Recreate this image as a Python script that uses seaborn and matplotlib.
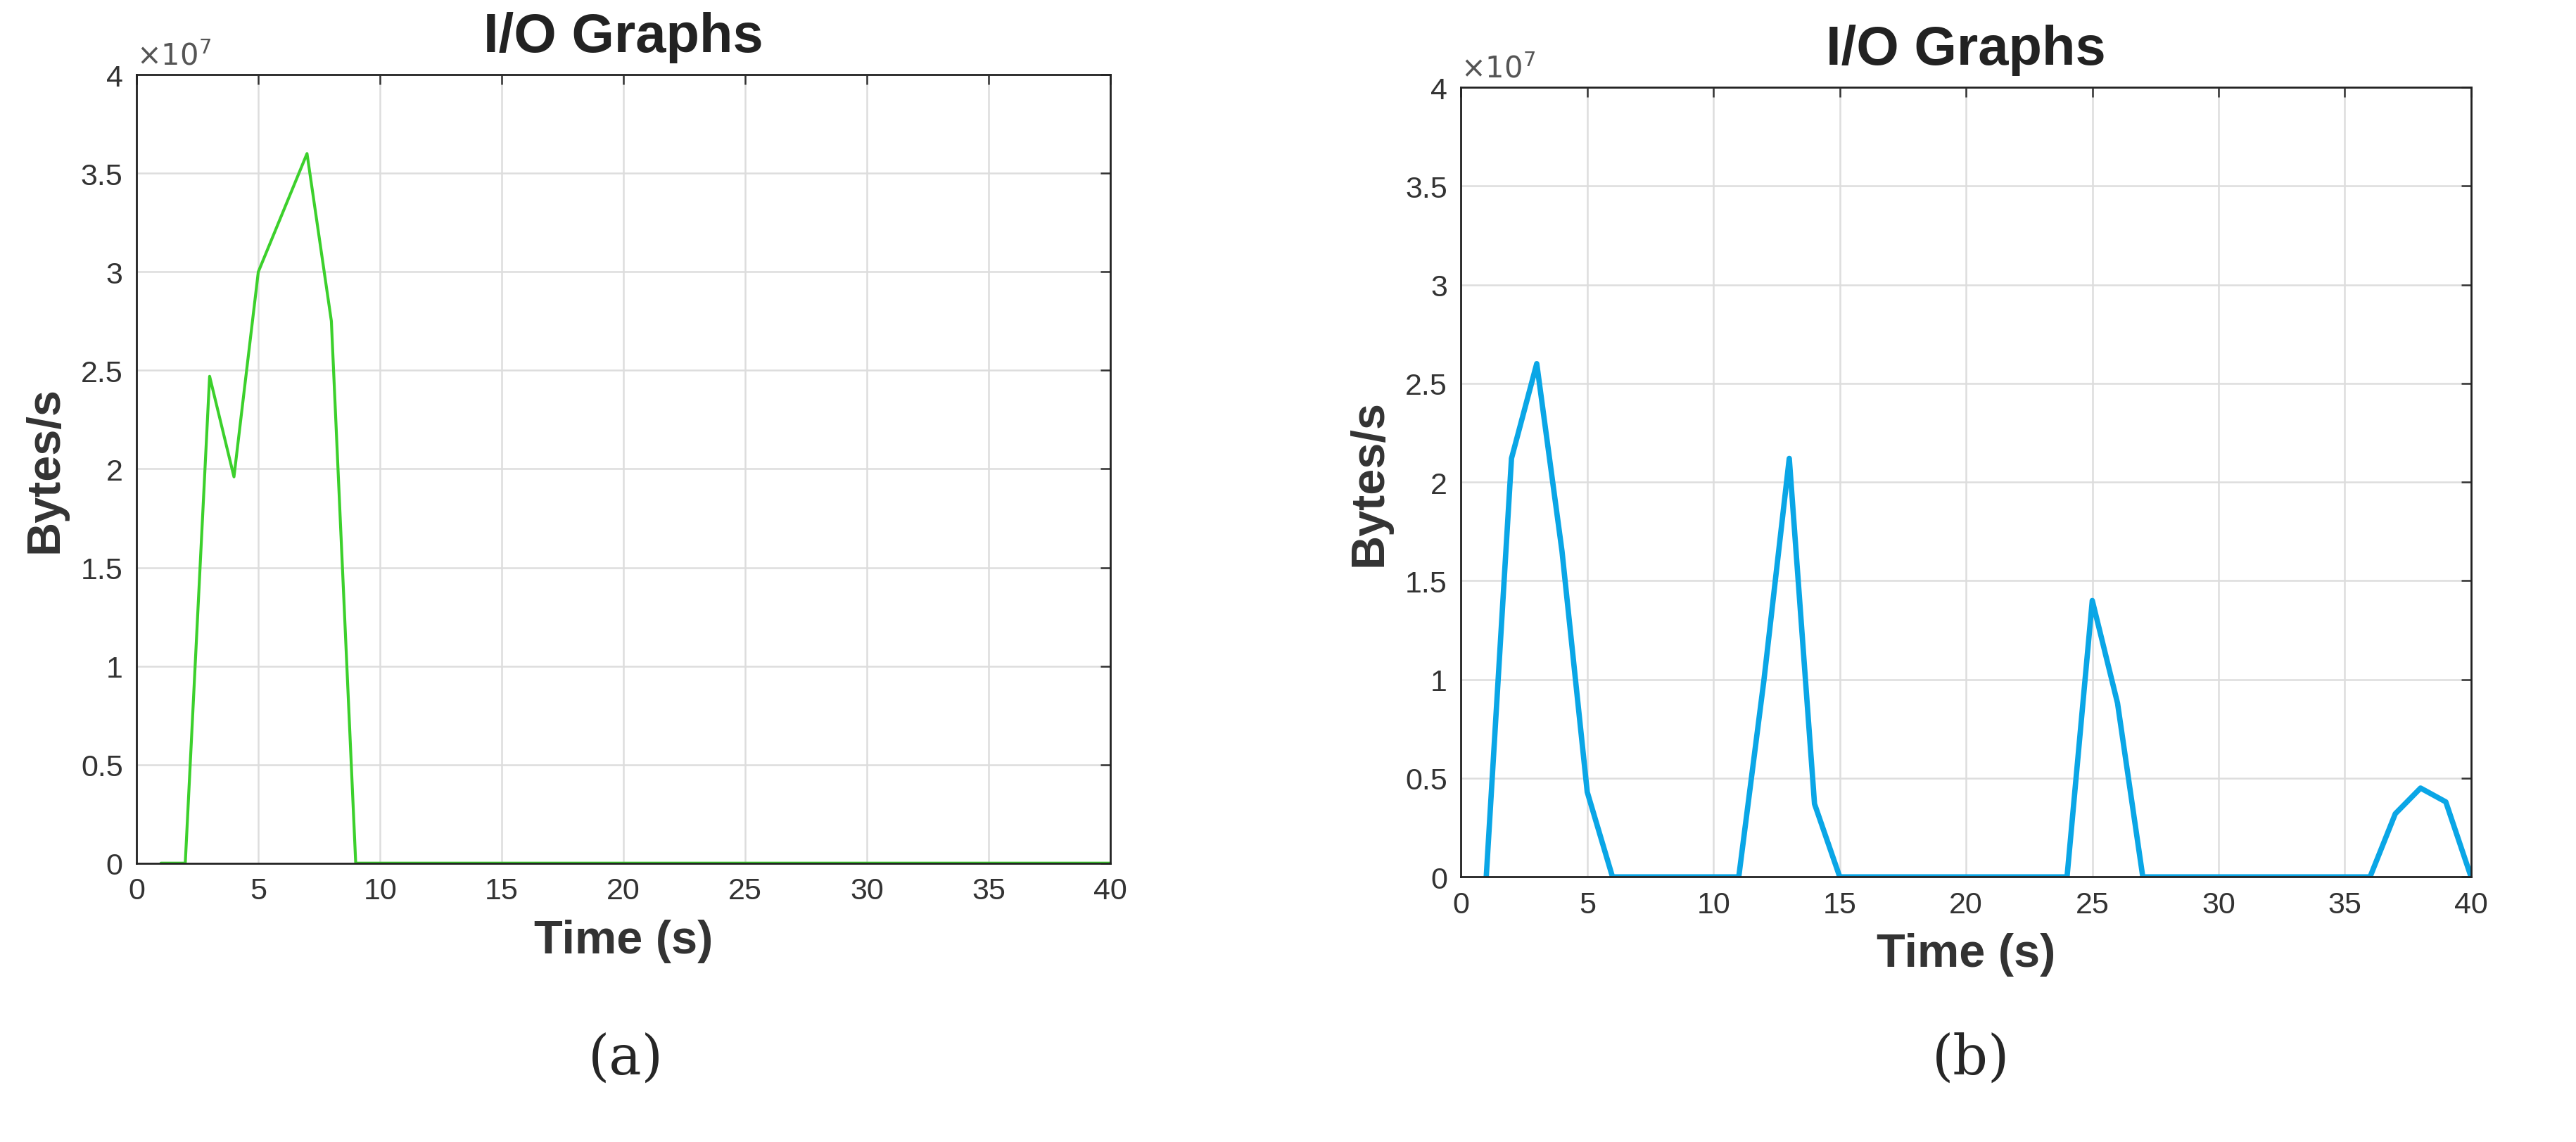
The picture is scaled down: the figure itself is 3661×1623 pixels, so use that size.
import numpy as np
import pandas as pd
import matplotlib
matplotlib.use("Agg")
import matplotlib.pyplot as plt
import seaborn as sns

time_s = list(range(1, 41))
bytes_a = [0, 0, 2.47, 1.96, 3.0, 3.3, 3.6, 2.75, 0] + [0] * 31
bytes_b = [0, 2.12, 2.6, 1.65, 0.43, 0, 0, 0, 0, 0, 0, 1.0, 2.12, 0.37, 0,
           0, 0, 0, 0, 0, 0, 0, 0, 0, 1.4, 0.88, 0, 0, 0, 0,
           0, 0, 0, 0, 0, 0, 0.32, 0.45, 0.38, 0]
yticks = [0, 0.5, 1, 1.5, 2, 2.5, 3, 3.5, 4]
xticks = [0, 5, 10, 15, 20, 25, 30, 35, 40]

sns.set_theme(style="whitegrid")
plt.rcParams['font.family'] = ['Liberation Sans', 'DejaVu Sans']

fig = plt.figure(figsize=(36.62, 16.24), dpi=100)
axA = fig.add_axes([0.053, 0.244, 0.378, 0.690])
axB = fig.add_axes([0.567, 0.232, 0.392, 0.691])

for ax, vals, col, lw, cap, cx in [(axA, bytes_a, "#3cd02c", 3, "(a)", 0.243),
                                   (axB, bytes_b, "#0aa6e6", 5.5, "(b)", 0.765)]:
    df = pd.DataFrame({"t": time_s, "v": np.array(vals) * 1e7})
    sns.lineplot(data=df, x="t", y="v", ax=ax, color=col, linewidth=lw)
    ax.set_xlim(0, 40)
    ax.set_ylim(0, 4e7)
    ax.set_xticks(xticks)
    ax.set_yticks([v * 1e7 for v in yticks])
    ax.set_yticklabels([f"{v:g}" for v in yticks])
    ax.tick_params(labelsize=31, colors="#333333", direction="in", length=10, width=1.8,
                   top=True, right=True, pad=14)
    ax.grid(True, color="#dddddd", linewidth=1.8)
    for s in ax.spines.values():
        s.set_color("#222222")
        s.set_linewidth(2)
    ax.set_title("I/O Graphs", fontsize=56, fontweight="bold", color="#222222", pad=24)
    ax.set_xlabel("Time (s)", fontsize=48, fontweight="bold", color="#333333", labelpad=14)
    ax.set_ylabel("Bytes/s", fontsize=48, fontweight="bold", color="#333333", labelpad=14)
    ax.text(0.0, 1.005, r"$\times10^{7}$", transform=ax.transAxes, fontsize=30, color="#555555",
            va="bottom", ha="left")
    fig.text(cx, 0.073, cap, fontsize=56, family="DejaVu Serif", ha="center", va="center")

fig.savefig("out.png", dpi=100, facecolor="white")
